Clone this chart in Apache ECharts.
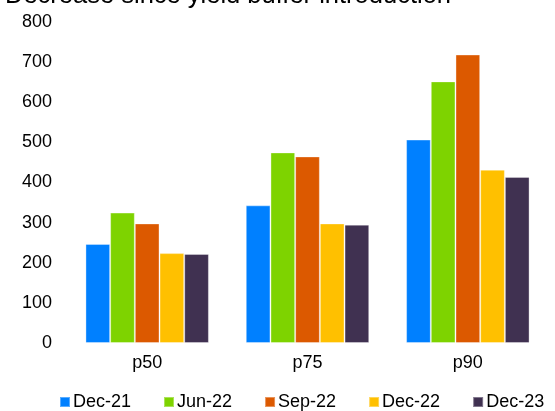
<!DOCTYPE html>
<html><head><meta charset="utf-8">
<script src="https://cdn.jsdelivr.net/npm/echarts@6/dist/echarts.min.js"></script>
<style>html,body{margin:0;padding:0;background:#fff}#c{width:555px;height:411px}</style>
</head><body><div id="c"></div>
<script>
const categories = ['p50', 'p75', 'p90'];
const seriesNames = ['Dec-21', 'Jun-22', 'Sep-22', 'Dec-22', 'Dec-23'];
const dec21 = [247, 343, 507];
const jun22 = [325, 475, 652];
const sep22 = [298, 465, 719];
const dec22 = [224, 298, 432];
const dec23 = [222, 295, 414];
const yTicks = [0, 100, 200, 300, 400, 500, 600, 700, 800];
const colors = ['#0080FF', '#7ED300', '#DC5900', '#FFC000', '#403151'];
const values = [dec21, jun22, sep22, dec22, dec23];
const font = 'Liberation Sans, Arial, sans-serif';
const chart = echarts.init(document.getElementById('c'));
chart.setOption({
  animation: false,
  title: {
    text: 'Decrease since yield buffer introduction',
    left: 0, top: -22,
    textStyle: {fontFamily: font, fontSize: 25.5, fontWeight: 'normal', color: '#000'}
  },
  legend: {
    data: seriesNames, left: 54, top: 388,
    itemWidth: 10, itemHeight: 10, itemGap: 32, icon: 'rect',
    textStyle: {fontFamily: font, fontSize: 18, color: '#000', padding: [0, 0, 0, -2]}
  },
  grid: {left: 67, right: 7, top: 22, bottom: 68},
  xAxis: {
    type: 'category', data: categories,
    axisLine: {show: false}, axisTick: {show: false},
    axisLabel: {fontFamily: font, fontSize: 18, color: '#000', margin: 11}
  },
  yAxis: {
    type: 'value', min: yTicks[0], max: yTicks[yTicks.length - 1], interval: 100,
    splitLine: {show: false}, axisLine: {show: false}, axisTick: {show: false},
    axisLabel: {fontFamily: font, fontSize: 18, color: '#000', margin: 15}
  },
  series: seriesNames.map((n, i) => ({
    name: n, type: 'bar', data: values[i], barGap: '0%', barCategoryGap: '23%',
    itemStyle: {color: colors[i], borderColor: 'rgba(255,255,255,0.35)', borderWidth: 1}
  }))
});
</script></body></html>
